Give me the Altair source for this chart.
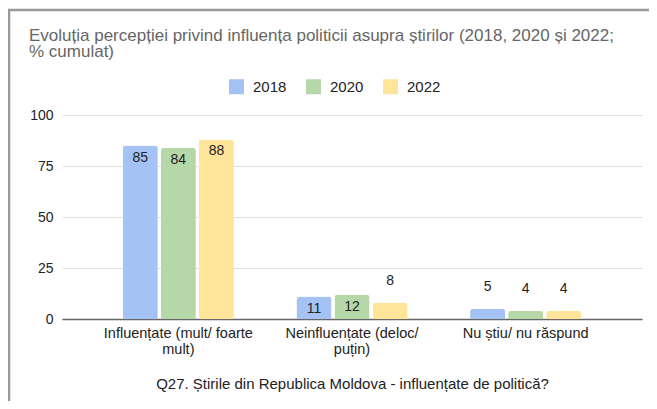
import altair as alt
import pandas as pd

categories = ["Influențate (mult/ foarte mult)", "Neinfluențate (deloc/ puțin)", "Nu știu/ nu răspund"]
label_lines = [["Influențate (mult/ foarte", "mult)"], ["Neinfluențate (deloc/", "puțin)"], ["Nu știu/ nu răspund"]]
years = ["2018", "2020", "2022"]
values_2018 = [85, 11, 5]
values_2020 = [84, 12, 4]
values_2022 = [88, 8, 4]
colors = ["#a4c2f4", "#b6d7a8", "#ffe599"]
y_ticks = [0, 25, 50, 75, 100]

title_lines = [
    "Evoluția percepției privind influența politicii asupra știrilor (2018, 2020 și 2022;",
    "% cumulat)",
]
x_title = "Q27. Știrile din Republica Moldova - influențate de politică?"

FONT = "Liberation Sans, Arial, sans-serif"

rows = []
for yr, vals in zip(years, [values_2018, values_2020, values_2022]):
    for cat, v in zip(categories, vals):
        rows.append({"category": cat, "year": yr, "value": v})
df = pd.DataFrame(rows)

# label expression for multi-line x labels
expr = "datum.value"
for cat, lines in reversed(list(zip(categories, label_lines))):
    arr = "[" + ",".join("'" + l + "'" for l in lines) + "]"
    expr = f"datum.value == '{cat}' ? {arr} : ({expr})"

base = alt.Chart(df).encode(
    x=alt.X(
        "category:N",
        sort=categories,
        scale=alt.Scale(paddingInner=0.36, paddingOuter=0.35),
        axis=alt.Axis(
            title=x_title,
            labelExpr=expr,
            labelAngle=0,
            labelFontSize=14.5,
            labelColor="#222222",
            labelFont=FONT,
            labelPadding=7,
            labelLineHeight=16,
            ticks=False,
            domainColor="#666666",
            domainWidth=1.5,
            titleFont=FONT,
            titleFontSize=15,
            titleFontWeight="normal",
            titleColor="#222222",
            titlePadding=21,
            labelLimit=300,
        ),
    ),
    xOffset=alt.XOffset("year:N", sort=years, scale=alt.Scale(paddingInner=0.08, paddingOuter=0)),
    y=alt.Y(
        "value:Q",
        scale=alt.Scale(domain=[0, 100]),
        axis=alt.Axis(
            title=None,
            values=y_ticks,
            domain=False,
            ticks=False,
            labelFontSize=14,
            labelColor="#222222",
            labelFont=FONT,
            labelPadding=9,
            gridColor="#e0e0e0",
            gridWidth=1,
        ),
    ),
)

bars = base.mark_bar(cornerRadiusTopLeft=3, cornerRadiusTopRight=3).encode(
    color=alt.Color(
        "year:N",
        sort=years,
        scale=alt.Scale(domain=years, range=colors),
        legend=alt.Legend(
            title=None,
            orient="none",
            legendX=167,
            legendY=-36,
            direction="horizontal",
            symbolType="square",
            symbolSize=225,
            symbolStrokeWidth=0,
            labelFontSize=15,
            labelFont=FONT,
            labelColor="#222222",
            labelOffset=9,
            columnPadding=19,
            padding=0,
        ),
    )
)

labels_in = base.transform_filter("datum.value >= 10").mark_text(
    baseline="top", dy=5, fontSize=14, font=FONT, color="#222222"
).encode(text="value:Q")

labels_out = base.transform_filter("datum.value < 10").mark_text(
    baseline="bottom", dy=-15, fontSize=14, font=FONT, color="#222222"
).encode(text="value:Q")

frame_df = pd.DataFrame({"k": [0]})
frame = alt.Chart(frame_df).mark_rect(filled=False, stroke="#999999", strokeWidth=2.5).encode(
    x=alt.value(-53), x2=alt.value(700), y=alt.value(-105), y2=alt.value(400)
)

chart = alt.layer(bars, labels_in, labels_out, frame).properties(
    width=580,
    height=204,
    autosize=alt.AutoSizeParams(type="none"),
    padding={"left": 54, "top": 107, "right": 7, "bottom": 82},
    title=alt.Title(
        text=title_lines,
        anchor="start",
        frame="group",
        dx=-33,
        offset=-52,
        fontSize=17,
        font=FONT,
        fontWeight="normal",
        color="#666666",
        lineHeight=15.5,
    ),
).configure_view(stroke=None)

chart.save("out.html", embed_options={"renderer": "svg", "actions": False})
